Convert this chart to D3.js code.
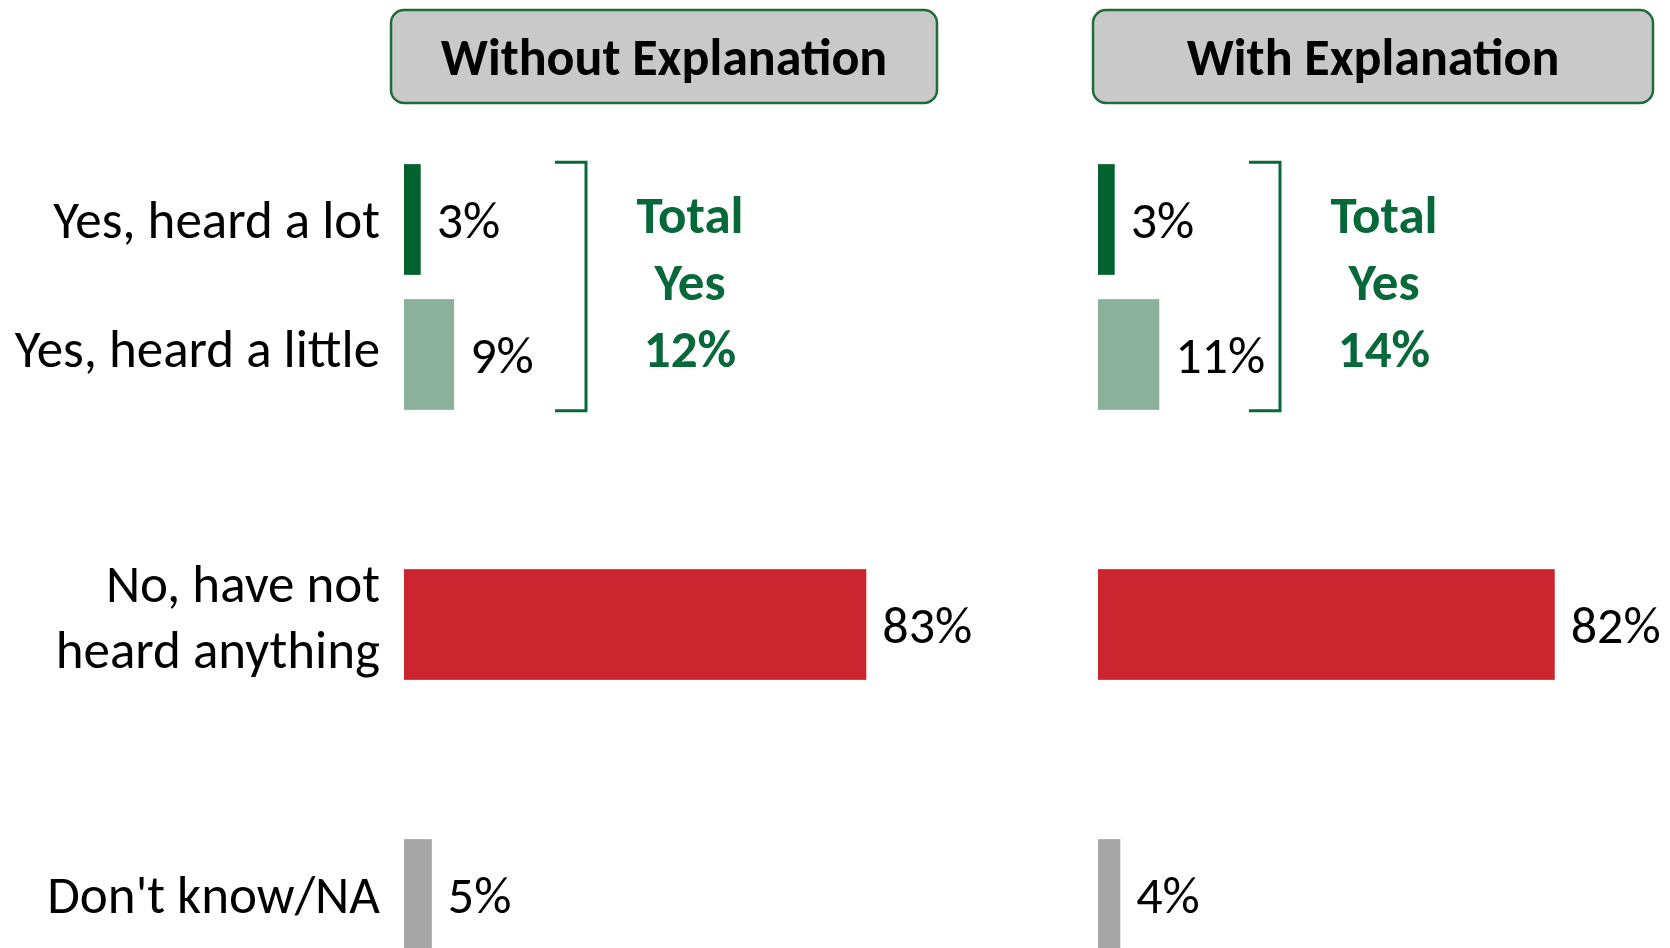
<!DOCTYPE html>
<html>
<head>
<meta charset="utf-8">
<script src="https://cdn.jsdelivr.net/npm/d3@7"></script>
<style>
  body { margin: 0; background: #fff; }
  text { font-family: Carlito, Calibri, Lato, sans-serif; }
</style>
</head>
<body>
<script>
var w = 1670
var h = 948

// data
var categories = ["Yes, heard a lot", "Yes, heard a little", "No, have not heard anything", "Don't know/NA"]
var slots = ["lot", "little", "gap1", "no", "gap2", "dk"] // empty rows keep the spacing
var catSlot = ["lot", "little", "no", "dk"]
var panels = ["Without Explanation", "With Explanation"]
var withoutValues = [3, 9, 83, 5]
var withValues = [3, 11, 82, 4]
var totalYes = ["12%", "14%"]
var colors = ["#03632f", "#8bb09c", "#cb2530", "#a6a6a6"]
var green = "#07693a"

var svg = d3.select("body")
            .append("svg")
            .attr("width", w)
            .attr("height", h)

var y = d3.scaleBand()
          .domain(slots)
          .range([152, 962])
          .paddingInner(0.18)
          .paddingOuter(0.09)

var x = d3.scaleLinear()
          .domain([0, 100])
          .range([0, 557])

var panelX = [404, 1098]
var boxes = [{x: 391, w: 546}, {x: 1093, w: 560}]

// category labels (left side only)
var labels = svg.selectAll("text.cat")
  .data(categories)
  .enter().append("text")
  .attr("class", "cat")
  .attr("text-anchor", "end")
  .attr("font-size", "53px")
  .attr("fill", "#000")

labels.each(function(d, i) {
  var t = d3.select(this)
  var cy = y(catSlot[i]) + y.bandwidth() / 2
  if(d.indexOf("No,") === 0) {
    t.append("tspan").attr("x", 380).attr("y", cy - 33 + 10).text("No, have not")
    t.append("tspan").attr("x", 380).attr("y", cy + 33 + 10).text("heard anything")
  } else {
    var dy = i === 1 ? 12 : 18
    t.attr("x", 380).attr("y", cy + dy).text(d)
  }
})

var allValues = [withoutValues, withValues]

panels.forEach(function(title, p) {
  var g = svg.append("g")
  var px = panelX[p]

  // header box
  g.append("rect")
    .attr("x", boxes[p].x)
    .attr("y", 10)
    .attr("width", boxes[p].w)
    .attr("height", 93)
    .attr("rx", 13)
    .attr("fill", "#c9c9c9")
    .attr("stroke", "#1e6b3c")
    .attr("stroke-width", 2.5)

  g.append("text")
    .text(title)
    .attr("x", boxes[p].x + boxes[p].w / 2)
    .attr("y", 75)
    .attr("text-anchor", "middle")
    .attr("font-size", "52px")
    .attr("font-weight", "bold")
    .attr("fill", "#000")

  var vals = allValues[p]

  g.selectAll("rect.bar")
    .data(vals)
    .enter().append("rect")
    .attr("class", "bar")
    .attr("x", px)
    .attr("y", function(d, i) { return y(catSlot[i]) })
    .attr("width", function(d) { return x(d) })
    .attr("height", y.bandwidth())
    .attr("fill", function(d, i) { return colors[i] })

  g.selectAll("text.val")
    .data(vals)
    .enter().append("text")
    .attr("class", "val")
    .text(function(d) { return d + "%" })
    .attr("x", function(d) { return px + x(d) + 16 })
    .attr("y", function(d, i) { return y(catSlot[i]) + y.bandwidth() / 2 + 18 })
    .attr("font-size", "52px")
    .attr("fill", "#000")

  // bracket around the two yes bars
  var bx = px + 182
  var top = y("lot") - 2
  var bottom = y("little") + y.bandwidth() + 1
  g.append("path")
    .attr("d", "M" + (bx - 31) + "," + top + "H" + bx + "V" + bottom + "H" + (bx - 31))
    .attr("fill", "none")
    .attr("stroke", green)
    .attr("stroke-width", 3)

  var tot = ["Total", "Yes", totalYes[p]]
  g.selectAll("text.tot")
    .data(tot)
    .enter().append("text")
    .attr("class", "tot")
    .text(function(d) { return d })
    .attr("x", px + 286)
    .attr("y", function(d, i) { return 233 + i * 67 })
    .attr("text-anchor", "middle")
    .attr("font-size", "53px")
    .attr("font-weight", "bold")
    .attr("fill", green)
})
</script>
</body>
</html>
